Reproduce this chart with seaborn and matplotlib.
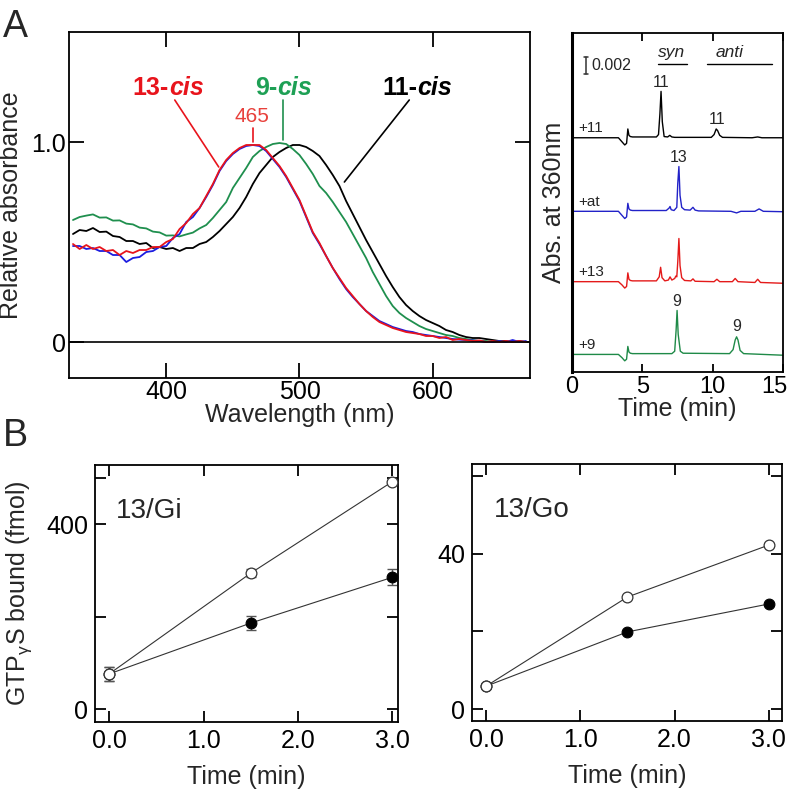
import numpy as np
import pandas as pd
import matplotlib
matplotlib.use("Agg")
import matplotlib.pyplot as plt
import matplotlib.transforms as mtransforms
import seaborn as sns

# ---------------- data ----------------
wavelength = list(range(330, 671, 5))

abs_11cis = [0.54, 0.56, 0.555, 0.57, 0.55, 0.552, 0.53, 0.525, 0.505, 0.505, 0.49, 0.495, 0.47,
             0.475, 0.465, 0.47, 0.455, 0.47, 0.47, 0.49, 0.50, 0.525, 0.555, 0.59, 0.625, 0.67,
             0.725, 0.79, 0.845, 0.885, 0.925, 0.95, 0.97, 0.985, 0.985, 0.975, 0.955, 0.93, 0.885,
             0.835, 0.78, 0.705, 0.64, 0.575, 0.51, 0.45, 0.39, 0.33, 0.275, 0.225, 0.185, 0.155,
             0.13, 0.11, 0.095, 0.08, 0.06, 0.05, 0.035, 0.025, 0.02, 0.02, 0.015, 0.01, 0.005,
             0.005, 0.0, 0.005, 0.0]
abs_9cis = [0.61, 0.625, 0.632, 0.638, 0.622, 0.623, 0.607, 0.608, 0.592, 0.588, 0.572, 0.568, 0.552,
            0.548, 0.532, 0.533, 0.528, 0.538, 0.547, 0.568, 0.585, 0.62, 0.66, 0.70, 0.77, 0.82,
            0.87, 0.925, 0.955, 0.975, 0.99, 0.995, 0.99, 0.965, 0.935, 0.89, 0.84, 0.78, 0.745,
            0.70, 0.65, 0.60, 0.54, 0.48, 0.42, 0.35, 0.29, 0.23, 0.18, 0.145, 0.12, 0.10, 0.08,
            0.065, 0.055, 0.045, 0.035, 0.03, 0.02, 0.015, 0.01, 0.005, 0.005, 0.0, 0.003, 0.0,
            0.002, 0.0, 0.0]
abs_13cis = [0.49, 0.465, 0.485, 0.465, 0.475, 0.455, 0.46, 0.435, 0.455, 0.445, 0.46, 0.46, 0.475,
             0.475, 0.50, 0.515, 0.565, 0.595, 0.64, 0.67, 0.73, 0.79, 0.86, 0.91, 0.945, 0.97,
             0.985, 0.985, 0.985, 0.96, 0.92, 0.88, 0.83, 0.77, 0.71, 0.63, 0.55, 0.495, 0.43,
             0.37, 0.32, 0.27, 0.23, 0.19, 0.155, 0.125, 0.10, 0.085, 0.07, 0.06, 0.05, 0.045,
             0.04, 0.03, 0.03, 0.02, 0.025, 0.01, 0.015, 0.01, 0.005, 0.008, 0.0, 0.005, 0.0,
             0.005, 0.0, 0.005, 0.0]
abs_at = [0.48, 0.48, 0.465, 0.47, 0.455, 0.455, 0.435, 0.435, 0.40, 0.42, 0.425, 0.45, 0.455,
          0.475, 0.48, 0.52, 0.54, 0.60, 0.625, 0.67, 0.725, 0.785, 0.855, 0.905, 0.94, 0.965,
          0.98, 0.985, 0.98, 0.955, 0.915, 0.875, 0.825, 0.765, 0.705, 0.625, 0.545, 0.49, 0.43,
          0.37, 0.315, 0.265, 0.225, 0.19, 0.155, 0.13, 0.105, 0.09, 0.075, 0.065, 0.055, 0.05,
          0.04, 0.035, 0.03, 0.025, 0.02, 0.015, 0.012, 0.01, 0.008, 0.005, 0.0, 0.0, 0.005,
          0.0, 0.01, 0.0, 0.005]

# HPLC chromatograms (time in min, signal in mAU above baseline)
t_11 = [0.0, 3.3, 3.55, 3.75, 3.88, 3.97, 4.05, 4.15, 4.3, 6.0, 6.15, 6.25, 6.33, 6.42, 6.55, 6.8,
        6.95, 7.1, 7.3, 9.9, 10.1, 10.25, 10.35, 10.5, 10.7, 12.8, 13.2, 13.5, 15.0]
s_11 = [0.0, 0.0, -0.5, -0.9, -0.7, 1.1, 0.3, 0.15, 0.1, 0.1, 0.4, 3.0, 5.8, 2.0, 0.15, 0.1,
        0.3, 0.1, 0.05, 0.05, 0.4, 1.1, 0.9, 0.3, 0.05, 0.0, 0.1, 0.0, 0.0]
t_at = [0.0, 3.3, 3.55, 3.75, 3.88, 3.97, 4.05, 4.15, 4.3, 6.7, 6.9, 6.97, 7.05, 7.25, 7.45, 7.52,
        7.6, 7.68, 7.8, 8.0, 8.4, 8.6, 8.75, 9.0, 11.3, 11.7, 12.0, 13.0, 13.3, 13.6, 15.0]
s_at = [0.0, 0.0, -0.5, -0.9, -0.7, 1.0, 0.3, 0.15, 0.1, 0.1, 0.4, 0.6, 0.2, 0.1, 0.5, 3.5,
        5.6, 2.0, 0.5, 0.2, 0.15, 0.5, 0.15, 0.05, 0.0, -0.2, 0.0, 0.0, 0.3, 0.0, -0.05]
t_13 = [0.0, 3.3, 3.55, 3.75, 3.88, 3.97, 4.05, 4.15, 4.3, 6.0, 6.2, 6.3, 6.4, 6.6, 6.85, 6.97,
        7.1, 7.3, 7.38, 7.45, 7.52, 7.6, 7.68, 7.8, 8.0, 8.45, 8.6, 8.75, 10.1, 10.3, 10.5,
        11.4, 11.6, 11.8, 13.0, 13.2, 13.4, 15.0]
s_13 = [0.0, 0.0, -0.4, -0.8, -0.6, 1.1, 0.3, 0.15, 0.1, 0.1, 0.6, 1.8, 0.5, 0.1, 0.2, 0.6,
        0.2, 0.4, 0.7, 0.6, 2.5, 5.4, 2.0, 0.5, 0.15, 0.1, 0.35, 0.05, 0.0, 0.3, 0.0,
        0.0, 0.4, 0.0, -0.1, 0.3, -0.1, -0.2]
t_9 = [0.0, 3.3, 3.55, 3.75, 3.88, 3.97, 4.05, 4.15, 4.3, 7.1, 7.3, 7.4, 7.47, 7.55, 7.7, 7.9,
       11.2, 11.45, 11.6, 11.7, 11.8, 11.95, 12.2, 15.0]
s_9 = [0.0, 0.0, -0.4, -0.8, -0.6, 1.0, 0.3, 0.15, 0.1, 0.1, 0.4, 3.0, 5.5, 2.5, 0.4, 0.15,
       0.1, 0.6, 1.8, 2.2, 1.8, 0.5, 0.1, -0.1]
trace_names = ["+11", "+at", "+13", "+9"]

# GTPgammaS binding
time_b = [0.0, 1.5, 3.0]
gi_open = [76, 294, 492]
gi_open_err = [16, 8, 0]
gi_filled = [76, 186, 285]
gi_filled_err = [16, 15, 17]
go_open = [5.9, 28.9, 42.3]
go_filled = [5.9, 19.9, 27.1]

# ---------------- style ----------------
sns.set_style("ticks")
plt.rcParams["font.family"] = ["Liberation Sans", "DejaVu Sans"]
plt.rcParams.update({
    "axes.linewidth": 1.3,
    "xtick.direction": "in",
    "ytick.direction": "in",
    "xtick.major.width": 1.3,
    "ytick.major.width": 1.3,
    "xtick.color": "black",
    "ytick.color": "black",
    "axes.edgecolor": "black",
})

RED = "#e8141c"
BLUE = "#1c1ce0"
GREEN = "#1f8f4e"
GREEN_TXT = "#1ea055"

fig = plt.figure(figsize=(7.93, 7.90), dpi=100)

# ---------------- Panel A left: spectra ----------------
axA = fig.add_axes([0.0870, 0.5215, 0.5813, 0.438])
spec = pd.DataFrame({"wl": wavelength, "11": abs_11cis, "9": abs_9cis,
                     "at": abs_at, "13": abs_13cis})
for col, c in [("11", "black"), ("9", GREEN), ("at", BLUE), ("13", RED)]:
    sns.lineplot(data=spec, x="wl", y=col, color=c, lw=1.3, ax=axA)
axA.axhline(0, color="black", lw=1.2)
axA.set_xlim(327, 673)
axA.set_ylim(-0.18, 1.55)
axA.set_xticks([400, 500, 600])
axA.set_yticks([0, 1.0])
axA.set_yticklabels(["0", "1.0"])
axA.tick_params(top=True, right=True, length=10.5, labelsize=18, pad=1.5)
axA.tick_params(axis="y", pad=2)
axA.set_xlabel("Wavelength (nm)", fontsize=18, labelpad=-1)
axA.set_ylabel("Relative absorbance", fontsize=18, labelpad=6)

# curve labels
for split_x, num, color in [(401.9, "13-", RED), (483.6, "9-", GREEN_TXT), (588.4, "11-", "black")]:
    axA.text(split_x, 1.27, num, color=color, fontsize=18, fontweight="bold",
             ha="right", va="center")
    axA.text(split_x, 1.27, "cis", color=color, fontsize=18, fontweight="bold",
             style="italic", ha="left", va="center")
axA.plot([406.4, 439.4], [1.21, 0.875], color=RED, lw=1.2)
axA.plot([487.3, 487.3], [1.21, 1.01], color=GREEN, lw=1.2)
axA.plot([582.4, 533.7], [1.21, 0.80], color="black", lw=1.2)
axA.plot([465, 465], [1.07, 1.0], color=RED, lw=1.2)
axA.text(464.5, 1.125, "465", color="#e8413c", fontsize=15, ha="center", va="center")

# ---------------- Panel A right: HPLC ----------------
axH = fig.add_axes([0.7213, 0.5291, 0.2661, 0.4291])
baselines = [29.3, 20.1, 11.3, 2.2]
colors_h = ["black", "#2222c8", "#e41a1a", "#1f8a48"]
traces = [(t_11, s_11), (t_at, s_at), (t_13, s_13), (t_9, s_9)]
for (tt, ss), b, c, name in zip(traces, baselines, colors_h, trace_names):
    d = pd.DataFrame({"t": tt, "s": np.array(ss) + b})
    sns.lineplot(data=d, x="t", y="s", color=c, lw=1.0, sort=False, estimator=None, ax=axH)
    axH.text(0.45, b + 0.3, name, fontsize=11, ha="left", va="bottom")
axH.set_xlim(0, 15)
axH.set_ylim(0, 42.4)
axH.set_xticks([0, 5, 10, 15])
axH.set_yticks([])
axH.tick_params(axis="x", bottom=True, top=True, direction="in", length=6, labelsize=17, pad=3)
axH.spines["left"].set_linewidth(2.2)
axH.set_xlabel("Time (min)", fontsize=18, labelpad=-1)
axH.set_ylabel("Abs. at 360nm", fontsize=18, labelpad=4)
# shift the last tick label ("15") left so it stays inside the figure
last_lab = axH.get_xticklabels()[-1]
last_lab.set_transform(last_lab.get_transform() +
                       mtransforms.ScaledTranslation(-0.09, 0, fig.dpi_scale_trans))
# peak labels
axH.text(6.33, 35.3, "11", fontsize=11.5, ha="center", va="bottom")
axH.text(10.3, 30.7, "11", fontsize=11.5, ha="center", va="bottom")
axH.text(7.6, 25.9, "13", fontsize=11.5, ha="center", va="bottom")
axH.text(7.45, 7.9, "9", fontsize=11.5, ha="center", va="bottom")
axH.text(11.7, 4.8, "9", fontsize=11.5, ha="center", va="bottom")
# scale bar
axH.plot([1.0, 1.0], [37.3, 39.4], color="#333333", lw=1.1)
axH.plot([0.85, 1.15], [37.3, 37.3], color="#333333", lw=1.1)
axH.plot([0.85, 1.15], [39.4, 39.4], color="#333333", lw=1.1)
axH.text(1.35, 38.35, "0.002", fontsize=11.5, ha="left", va="center")
# syn / anti
axH.text(7.1, 39.0, "syn", fontsize=12.5, style="italic", ha="center", va="bottom")
axH.plot([6.1, 8.2], [38.5, 38.5], color="black", lw=1.0)
axH.text(11.2, 39.0, "anti", fontsize=12.5, style="italic", ha="center", va="bottom")
axH.plot([9.6, 14.2], [38.5, 38.5], color="black", lw=1.0)

# ---------------- Panel B ----------------
def draw_binding(ax, open_v, filled_v, open_err=None, filled_err=None):
    d_open = pd.DataFrame({"t": time_b, "v": open_v})
    d_fill = pd.DataFrame({"t": time_b, "v": filled_v})
    sns.lineplot(data=d_fill, x="t", y="v", color="#333333", lw=0.8, ax=ax)
    sns.lineplot(data=d_open, x="t", y="v", color="#333333", lw=0.8, ax=ax)
    if filled_err is not None:
        ax.errorbar(time_b, filled_v, yerr=filled_err, fmt="none", ecolor="#555555",
                    elinewidth=1.0, capsize=3.5, capthick=1.0)
    if open_err is not None:
        ax.errorbar(time_b, open_v, yerr=open_err, fmt="none", ecolor="#555555",
                    elinewidth=1.0, capsize=3.5, capthick=1.0)
    sns.scatterplot(data=d_fill, x="t", y="v", color="black", edgecolor="black",
                    s=60, linewidth=0.8, zorder=5, ax=ax)
    sns.scatterplot(data=d_open, x="t", y="v", color="white", edgecolor="#333333",
                    s=60, linewidth=0.9, zorder=6, ax=ax)
    ax.set_xticks([0, 1, 2, 3])
    ax.set_xticklabels(["0.0", "1.0", "2.0", "3.0"])
    ax.tick_params(top=True, right=True, length=8, labelsize=18, pad=5)
    ax.set_xlabel("Time (min)", fontsize=18, labelpad=9)

axB1 = fig.add_axes([0.1198, 0.0861, 0.3821, 0.3253])
draw_binding(axB1, gi_open, gi_filled, gi_open_err, gi_filled_err)
axB1.set_xlim(-0.15, 3.06)
axB1.set_ylim(-28, 528)
axB1.set_yticks([0, 200, 400, 500])
axB1.set_yticklabels(["0", "", "400", ""])
axB1.set_ylabel("GTP$_{\\mathregular{γ}}$S bound (fmol)", fontsize=18, labelpad=9)
axB1.text(0.07, 0.82, "13/Gi", transform=axB1.transAxes, fontsize=20, ha="left", va="center")

axB2 = fig.add_axes([0.5952, 0.0873, 0.3909, 0.3253])
draw_binding(axB2, go_open, go_filled)
axB2.set_xlim(-0.15, 3.14)
axB2.set_ylim(-3.1, 63.2)
axB2.set_yticks([0, 20, 40, 60])
axB2.set_yticklabels(["0", "", "40", ""])
axB2.set_ylabel("")
axB2.text(0.07, 0.82, "13/Go", transform=axB2.transAxes, fontsize=20, ha="left", va="center")

# panel letters
fig.text(0.004, 0.988, "A", fontsize=27, ha="left", va="top")
fig.text(0.004, 0.448, "B", fontsize=27, ha="left", va="center")

fig.savefig("out.png", dpi=100)
